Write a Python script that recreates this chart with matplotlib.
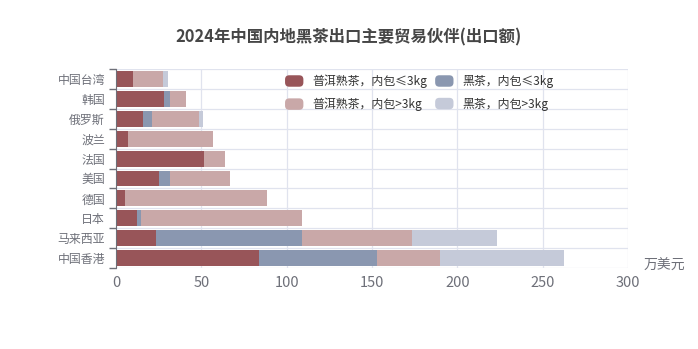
import matplotlib.pyplot as plt
from matplotlib.patches import FancyBboxPatch
from matplotlib.legend_handler import HandlerPatch
import numpy as np

plt.rcParams['font.family'] = ['Noto Sans CJK SC', 'DejaVu Sans']

countries = ['中国台湾', '韩国', '俄罗斯', '波兰', '法国', '美国', '德国', '日本', '马来西亚', '中国香港']
series_names = ['普洱熟茶，内包≤3kg', '黑茶，内包≤3kg', '普洱熟茶，内包>3kg', '黑茶，内包>3kg']
# 万美元
puer_small = [10.0, 28.1, 16.0, 7.2, 51.6, 25.4, 5.1, 12.5, 23.3, 83.7]
dark_small = [0.0, 3.7, 5.3, 0.0, 0.0, 6.0, 0.0, 2.0, 85.7, 69.5]
puer_large = [17.7, 9.2, 27.1, 49.6, 12.4, 35.6, 83.2, 94.5, 64.6, 36.7]
dark_large = [2.6, 0.0, 2.6, 0.0, 0.0, 0.0, 0.0, 0.0, 49.4, 72.7]
colors = ['#985559', '#8a97b0', '#c9a8a8', '#c5cad9']

fig = plt.figure(figsize=(6.98, 3.49), dpi=100)
ax = fig.add_axes([0.1662, 0.232, 0.7335, 0.5703])

y = np.arange(len(countries))[::-1]
left = np.zeros(len(countries))
bars = []
for vals, name, c in zip([puer_small, dark_small, puer_large, dark_large], series_names, colors):
    b = ax.barh(y, vals, left=left, height=0.8, color=c, label=name, zorder=3)
    bars.append(b)
    left += np.array(vals)

ax.set_xlim(0, 300)
ax.set_ylim(-0.5, len(countries) - 0.5)
ax.set_xticks(range(0, 301, 50))
ax.set_yticks(y)
ax.set_yticklabels(countries)

grid_c = '#e0e3ee'
for xv in range(0, 301, 50):
    ax.axvline(xv, color=grid_c, lw=0.9, zorder=1)
for yb in np.arange(-0.5, len(countries), 1):
    ax.axhline(yb, color=grid_c, lw=0.9, zorder=1)

for s in ['top', 'right', 'bottom']:
    ax.spines[s].set_visible(False)
ax.spines['left'].set_color('#6e7079')
ax.spines['left'].set_zorder(4)
ax.tick_params(axis='x', length=0, labelsize=10.5, labelcolor='#6e7079', pad=6)
ax.tick_params(axis='y', which='major', length=0, labelsize=8.6, labelcolor='#6e7079', pad=8)
ax.set_yticks(np.arange(-0.5, len(countries), 1), minor=True)
ax.tick_params(axis='y', which='minor', length=5, color='#6e7079', width=1)

ax.text(1.03, 0.01, '万美元', transform=ax.transAxes, fontsize=10, color='#6e7079',
        ha='left', va='center')

fig.text(0.5, 0.893, '2024年中国内地黑茶出口主要贸易伙伴(出口额)', ha='center', va='center',
         fontsize=11.8, fontweight='bold', color='#464646')


class RoundBox(HandlerPatch):
    def create_artists(self, legend, orig_handle, xdescent, ydescent, width, height, fontsize, trans):
        p = FancyBboxPatch((-xdescent + 2, -ydescent), width - 4, height,
                           boxstyle='round,pad=0,rounding_size=3',
                           facecolor=orig_handle.patches[0].get_facecolor(), edgecolor='none',
                           transform=trans)
        return [p]


handles = [bars[0], bars[2], bars[1], bars[3]]
labels = [series_names[0], series_names[2], series_names[1], series_names[3]]
leg = fig.legend(handles, labels, loc='center left', bbox_to_anchor=(0.389, 0.734), ncol=2,
                 frameon=False, fontsize=8.6, handlelength=2.0, handleheight=1.1,
                 columnspacing=0.45, labelspacing=0.8, handletextpad=0.5,
                 handler_map={type(bars[0]): RoundBox()})
for t in leg.get_texts():
    t.set_color('#333333')

fig.savefig('out.png', dpi=100)
